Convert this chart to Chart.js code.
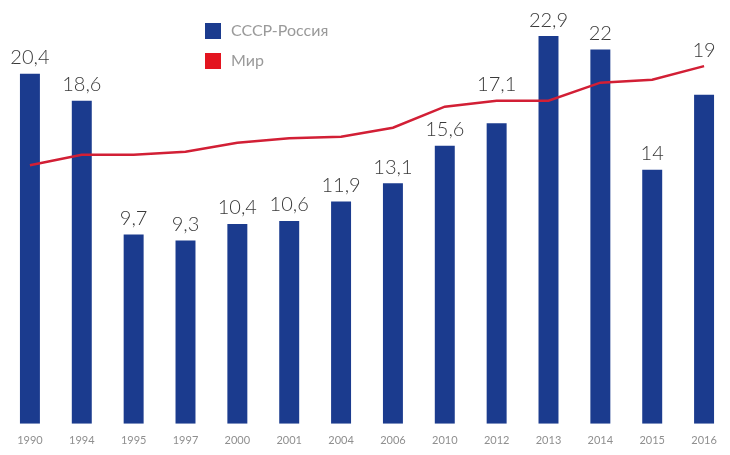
<!DOCTYPE html>
<html lang="ru">
<head>
<meta charset="UTF-8">
<title>СССР-Россия и Мир</title>
<script src="https://cdn.jsdelivr.net/npm/chart.js@4.4.0/dist/chart.umd.min.js"></script>
<style>
  html, body { margin: 0; padding: 0; background: #fff; }
  #wrap { width: 730px; height: 455px; }
</style>
</head>
<body>
<div id="wrap"><canvas id="chart" width="730" height="455"></canvas></div>
<script>
const years = ['1990', '1994', '1995', '1997', '2000', '2001', '2004', '2006', '2010', '2012', '2013', '2014', '2015', '2016'];
const russia = [20.4, 18.6, 9.7, 9.3, 10.4, 10.6, 11.9, 13.1, 15.6, 17.1, 22.9, 22, 14, 19];
const world = [14.3, 15.0, 15.0, 15.2, 15.8, 16.1, 16.2, 16.8, 18.2, 18.6, 18.6, 19.8, 20.0, 20.9];

const Y_MIN = -2.9;
const Y_MAX = 25.3;
const BLUE = '#1b3b8e';
const RED = '#d21f35';

// value labels above the bars; lifted over the red line when it runs close above a bar
const barLabels = {
  id: 'barLabels',
  afterDatasetsDraw(chart) {
    const ctx = chart.ctx;
    const bars = chart.getDatasetMeta(1).data;
    const pts = chart.getDatasetMeta(0).data;
    ctx.save();
    ctx.font = '300 20px Lato, "Open Sans", sans-serif';
    ctx.fillStyle = '#3a3a3a';
    ctx.textAlign = 'center';
    ctx.textBaseline = 'bottom';
    bars.forEach((b, i) => {
      let top = b.y;
      const gap = b.y - pts[i].y;
      if (gap > 0 && gap < 32) top = pts[i].y;
      const txt = String(russia[i]).replace('.', ',');
      ctx.fillText(txt, b.x, top - 6);
    });
    ctx.restore();
  }
};

// small stacked legend with square swatches
const squareLegend = {
  id: 'squareLegend',
  afterDraw(chart) {
    const ctx = chart.ctx;
    const items = [chart.data.datasets[1], chart.data.datasets[0]];
    ctx.save();
    ctx.font = '16px Lato, "Open Sans", sans-serif';
    ctx.textBaseline = 'middle';
    items.forEach((ds, i) => {
      const y = 31 + i * 30;
      ctx.fillStyle = ds.legendColor;
      ctx.fillRect(205, y - 8, 16, 16);
      ctx.fillStyle = '#9a9a9a';
      ctx.fillText(ds.label, 231, y);
    });
    ctx.restore();
  }
};

new Chart(document.getElementById('chart'), {
  type: 'bar',
  data: {
    labels: years,
    datasets: [
      {
        type: 'line',
        label: 'Мир',
        data: world,
        borderColor: RED,
        legendColor: '#e3141f',
        borderWidth: 2.5,
        pointRadius: 0,
        tension: 0,
        fill: false,
        order: 0
      },
      {
        type: 'bar',
        label: 'СССР-Россия',
        data: russia,
        base: Y_MIN,
        backgroundColor: BLUE,
        legendColor: BLUE,
        barPercentage: 0.77,
        categoryPercentage: 0.5,
        order: 1
      }
    ]
  },
  options: {
    responsive: false,
    animation: false,
    layout: { padding: { left: 4, right: 0, top: 0, bottom: 6 } },
    plugins: {
      legend: { display: false },
      tooltip: { enabled: false }
    },
    scales: {
      x: {
        grid: { display: false },
        border: { display: false },
        ticks: {
          color: '#8f8f8f',
          font: { family: 'Lato, "Open Sans", sans-serif', size: 11 },
          padding: 2,
          maxRotation: 0,
          autoSkip: false
        }
      },
      y: {
        display: false,
        min: Y_MIN,
        max: Y_MAX
      }
    }
  },
  plugins: [barLabels, squareLegend]
});
</script>
</body>
</html>
